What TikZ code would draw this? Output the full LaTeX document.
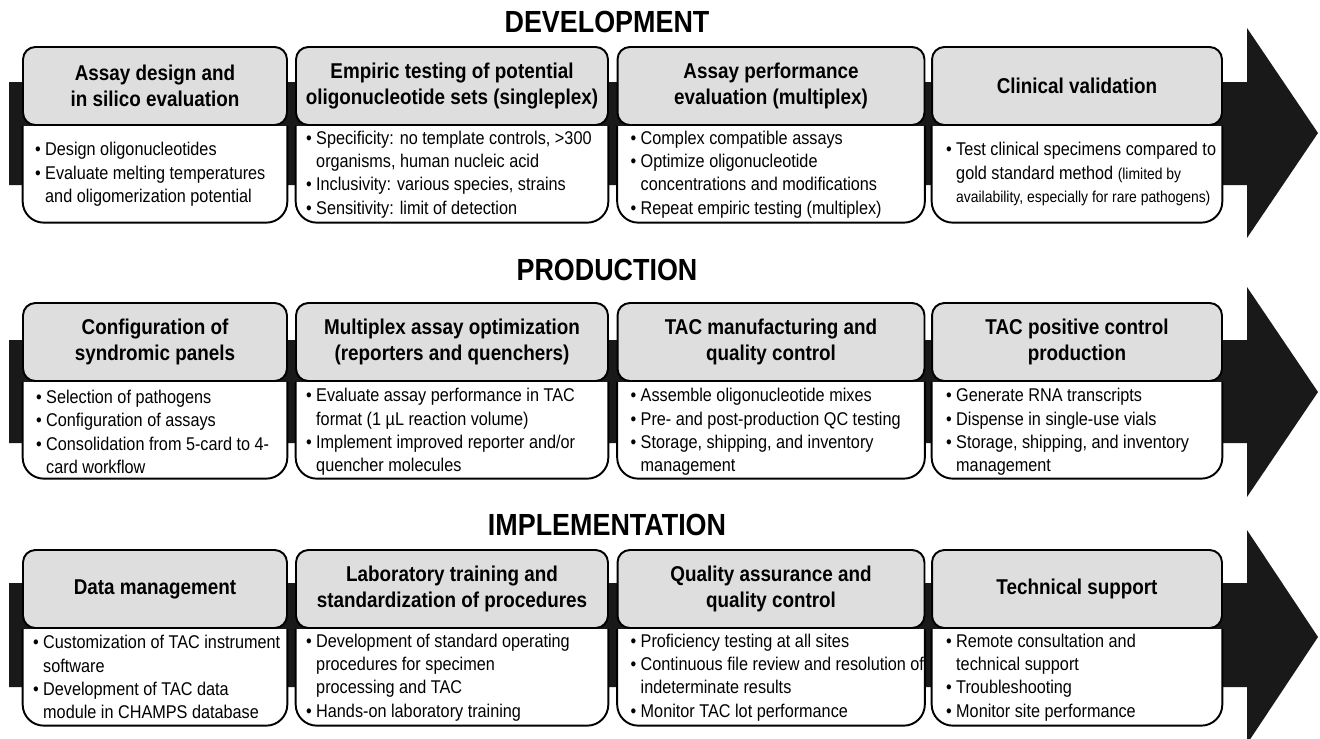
\documentclass[tikz,border=0pt]{standalone}
\usepackage{fontspec}
\setmainfont{Liberation Sans}[FakeStretch=0.88]
\usetikzlibrary{positioning}

\definecolor{headgray}{gray}{0.87}
\definecolor{barblack}{gray}{0.1}

\newcommand{\bul}{\textbullet\ }
\newcommand{\ind}{\phantom{\textbullet\ }}
\newcommand{\smalltxt}{\fontsize{9}{13.3}\selectfont}

\tikzset{
  phase/.style={font=\bfseries\fontsize{17.4}{20}\selectfont},
  head/.style={draw, line width=1.1pt, fill=headgray, rounded corners=7pt,
    minimum height=1.56cm, inner sep=0pt, align=center,
    font=\bfseries\fontsize{12.2}{14.7}\selectfont},
  bodyfill/.style={fill=white, minimum height=1.92cm, inner sep=0pt},
  rim/.style={line width=1.1pt, rounded corners=12pt},
  items/.style={anchor=west, inner sep=0pt, align=left,
    font=\fontsize{10.5}{13.3}\selectfont},
  banner/.style={fill=barblack}
}

\begin{document}
\begin{tikzpicture}[x=0.02cm,y=-0.02cm]
    \useasboundingbox (0,0) rectangle (1320,738);
    % Big arrows behind each row
    \fill[banner] (9,82) -- (1247,82) -- (1247,28) -- (1318,133) -- (1247,238) -- (1247,185) -- (9,185) -- cycle;
    \fill[banner] (9,340) -- (1247,340) -- (1247,287) -- (1318,392) -- (1247,497) -- (1247,443) -- (9,443) -- cycle;
    \fill[banner] (9,583) -- (1247,583) -- (1247,530) -- (1318,637) -- (1247,744) -- (1247,687) -- (9,687) -- cycle;

    % Row titles
    \node[phase] (devtitle) at (607,22) {DEVELOPMENT};
    \node[phase] (prodtitle) at (607,270) {PRODUCTION};
    \node[phase] (impltitle) at (607,525) {IMPLEMENTATION};

    % Development
    \node[head, minimum width=5.28cm] (d1) at (155,86) {Assay design and\\in silico evaluation};
    \node[bodyfill, minimum width=5.28cm, below=0pt of d1] (d1b) {};
    \draw[rim] (d1b.north west) -- (d1b.south west) -- (d1b.south east) -- (d1b.north east);
    \node[items, right=0.24cm of d1b.west] (d1t) {\bul Design oligonucleotides\\\bul Evaluate melting temperatures\\\ind and oligomerization potential};

    \node[head, minimum width=6.24cm] (d2) at (452,86) {Empiric testing of potential\\oligonucleotide sets (singleplex)};
    \node[bodyfill, minimum width=6.24cm, below=0pt of d2] (d2b) {};
    \draw[rim] (d2b.north west) -- (d2b.south west) -- (d2b.south east) -- (d2b.north east);
    \node[items, right=0.2cm of d2b.west] (d2t) {\bul Specificity: no template controls, >300\\\ind organisms, human nucleic acid\\\bul Inclusivity: various species, strains\\\bul Sensitivity: limit of detection};

    \node[head, minimum width=6.14cm] (d3) at (771,86) {Assay performance\\evaluation (multiplex)};
    \node[bodyfill, minimum width=6.14cm, below=0pt of d3] (d3b) {};
    \draw[rim] (d3b.north west) -- (d3b.south west) -- (d3b.south east) -- (d3b.north east);
    \node[items, right=0.26cm of d3b.west] (d3t) {\bul Complex compatible assays\\\bul Optimize oligonucleotide\\\ind concentrations and modifications\\\bul Repeat empiric testing (multiplex)};

    \node[head, minimum width=5.8cm] (d4) at (1077,86) {Clinical validation};
    \node[bodyfill, minimum width=5.8cm, below=0pt of d4] (d4b) {};
    \draw[rim] (d4b.north west) -- (d4b.south west) -- (d4b.south east) -- (d4b.north east);
    \node[items, right=0.28cm of d4b.west] (d4t) {\bul Test clinical specimens compared to\\\ind gold standard method {\smalltxt(limited by}\\\ind {\smalltxt availability, especially for rare pathogens)}};

    % Production
    \node[head, minimum width=5.28cm] (p1) at (155,342) {Configuration of\\syndromic panels};
    \node[bodyfill, minimum width=5.28cm, below=0pt of p1] (p1b) {};
    \draw[rim] (p1b.north west) -- (p1b.south west) -- (p1b.south east) -- (p1b.north east);
    \node[items, right=0.26cm of p1b.west, yshift=-1pt] (p1t) {\bul Selection of pathogens\\\bul Configuration of assays\\\bul Consolidation from 5-card to 4-\\\ind card workflow};

    \node[head, minimum width=6.24cm] (p2) at (452,342) {Multiplex assay optimization\\(reporters and quenchers)};
    \node[bodyfill, minimum width=6.24cm, below=0pt of p2] (p2b) {};
    \draw[rim] (p2b.north west) -- (p2b.south west) -- (p2b.south east) -- (p2b.north east);
    \node[items, right=0.2cm of p2b.west, yshift=-1pt] (p2t) {\bul Evaluate assay performance in TAC\\\ind format (1 µL reaction volume)\\\bul Implement improved reporter and/or\\\ind quencher molecules};

    \node[head, minimum width=6.14cm] (p3) at (771,342) {TAC manufacturing and\\quality control};
    \node[bodyfill, minimum width=6.14cm, below=0pt of p3] (p3b) {};
    \draw[rim] (p3b.north west) -- (p3b.south west) -- (p3b.south east) -- (p3b.north east);
    \node[items, right=0.26cm of p3b.west, yshift=-1pt] (p3t) {\bul Assemble oligonucleotide mixes\\\bul Pre- and post-production QC testing\\\bul Storage, shipping, and inventory\\\ind management};

    \node[head, minimum width=5.8cm] (p4) at (1077,342) {TAC positive control\\production};
    \node[bodyfill, minimum width=5.8cm, below=0pt of p4] (p4b) {};
    \draw[rim] (p4b.north west) -- (p4b.south west) -- (p4b.south east) -- (p4b.north east);
    \node[items, right=0.28cm of p4b.west, yshift=-1pt] (p4t) {\bul Generate RNA transcripts\\\bul Dispense in single-use vials\\\bul Storage, shipping, and inventory\\\ind management};

    % Implementation
    \node[head, minimum width=5.28cm] (i1) at (155,589) {Data management};
    \node[bodyfill, minimum width=5.28cm, below=0pt of i1] (i1b) {};
    \draw[rim] (i1b.north west) -- (i1b.south west) -- (i1b.south east) -- (i1b.north east);
    \node[items, right=0.2cm of i1b.west] (i1t) {\bul Customization of TAC instrument\\\ind software\\\bul Development of TAC data\\\ind module in CHAMPS database};

    \node[head, minimum width=6.24cm] (i2) at (452,589) {Laboratory training and\\standardization of procedures};
    \node[bodyfill, minimum width=6.24cm, below=0pt of i2] (i2b) {};
    \draw[rim] (i2b.north west) -- (i2b.south west) -- (i2b.south east) -- (i2b.north east);
    \node[items, right=0.2cm of i2b.west] (i2t) {\bul Development of standard operating\\\ind procedures for specimen\\\ind processing and TAC\\\bul Hands-on laboratory training};

    \node[head, minimum width=6.14cm] (i3) at (771,589) {Quality assurance and\\quality control};
    \node[bodyfill, minimum width=6.14cm, below=0pt of i3] (i3b) {};
    \draw[rim] (i3b.north west) -- (i3b.south west) -- (i3b.south east) -- (i3b.north east);
    \node[items, right=0.26cm of i3b.west] (i3t) {\bul Proficiency testing at all sites\\\bul Continuous file review and resolution of\\\ind indeterminate results\\\bul Monitor TAC lot performance};

    \node[head, minimum width=5.8cm] (i4) at (1077,589) {Technical support};
    \node[bodyfill, minimum width=5.8cm, below=0pt of i4] (i4b) {};
    \draw[rim] (i4b.north west) -- (i4b.south west) -- (i4b.south east) -- (i4b.north east);
    \node[items, right=0.28cm of i4b.west] (i4t) {\bul Remote consultation and\\\ind technical support\\\bul Troubleshooting\\\bul Monitor site performance};
\end{tikzpicture}
\end{document}
